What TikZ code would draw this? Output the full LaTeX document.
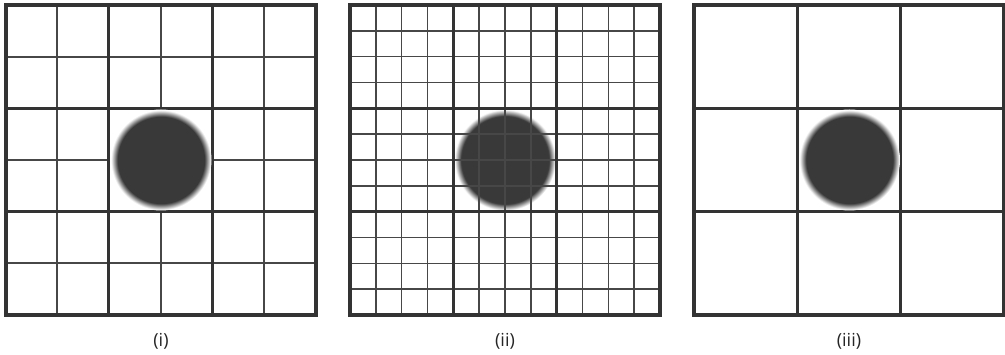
\documentclass[tikz,border=0pt]{standalone}
\usepackage{fontspec}
\setsansfont{Open Sans}
\usepackage{tikz}
\usetikzlibrary{positioning}
\definecolor{blobgray}{HTML}{393939}
\definecolor{gridgray}{HTML}{333333}
\pgfdeclareradialshading{blob}{\pgfpoint{0bp}{0bp}}{color(0bp)=(blobgray); color(21.5bp)=(blobgray); color(24.7bp)=(white); color(50bp)=(white)}

\begin{document}
\begin{tikzpicture}[x=1pt, y=-1pt,
    major/.style={draw=gridgray, line width=3.2pt},
    minor/.style={draw=gridgray!90, line width=2pt},
    border/.style={draw=gridgray, line width=4pt},
    paneltext/.style={font=\sffamily\fontsize{18}{22}\selectfont, text=black!85}]
    \useasboundingbox (0,0) rectangle (1005,355);

    % Panel (i): 6x6 grid, blob on top
    \begin{scope}[shift={(5.5,5)}]
        \foreach \i in {1,3,5} {
            \draw[minor] (\i*310/6,0) -- (\i*310/6,310);
            \draw[minor] (0,\i*310/6) -- (310,\i*310/6);
        }
        \foreach \i in {1,2} {
            \draw[major] (\i*310/3,0) -- (\i*310/3,310);
            \draw[major] (0,\i*310/3) -- (310,\i*310/3);
        }
        \draw[border] (0,0) rectangle (310,310);
        \shade[shading=blob] (155.5,155) circle (50.5);
    \end{scope}
    \node[paneltext] (capi) at (161,341) {(i)};

    % Panel (ii): 12x12 grid, drawn over the blob
    \begin{scope}[shift={(350,5)}]
        \shade[shading=blob] (155,155) circle (51);
        \foreach \i in {1,...,11} {
            \draw[minor, line width=1.6pt] (\i*310/12,0) -- (\i*310/12,310);
            \draw[minor, line width=1.6pt] (0,\i*310/12) -- (310,\i*310/12);
        }
        \foreach \i in {1,2} {
            \draw[major] (\i*310/3,0) -- (\i*310/3,310);
            \draw[major] (0,\i*310/3) -- (310,\i*310/3);
        }
        \draw[border] (0,0) rectangle (310,310);
    \end{scope}
    \node[paneltext] (capii) at (505,341) {(ii)};

    % Panel (iii): 3x3 grid only
    \begin{scope}[shift={(694,5)}]
        \foreach \i in {1,2} {
            \draw[major] (\i*310/3,0) -- (\i*310/3,310);
            \draw[major] (0,\i*310/3) -- (310,\i*310/3);
        }
        \draw[border] (0,0) rectangle (310,310);
        \shade[shading=blob] (155.5,155) circle (50.5);
    \end{scope}
    \node[paneltext] (capiii) at (849,341) {(iii)};
\end{tikzpicture}
\end{document}
